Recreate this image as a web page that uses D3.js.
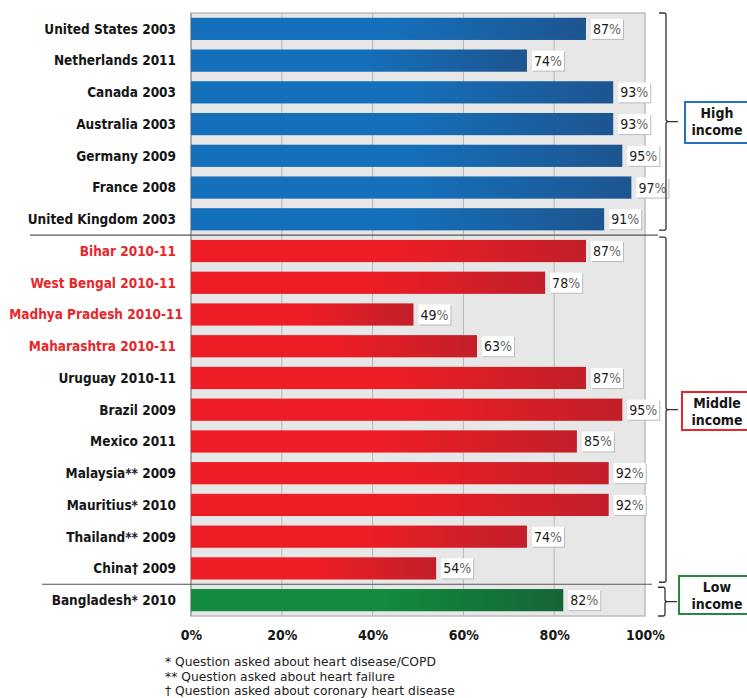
<!DOCTYPE html>
<html>
<head>
<meta charset="utf-8">
<script src="https://cdn.jsdelivr.net/npm/d3@7/dist/d3.min.js"></script>
<style>
  body { margin: 0; background: #fff; }
  svg { display: block; }
  text { font-family: "DejaVu Sans Condensed", "DejaVu Sans", sans-serif; }
</style>
</head>
<body>
<div id="chart"></div>
<script>

// share of people with the condition who knew about it, by survey
var countries = [
  "United States 2003", "Netherlands 2011", "Canada 2003", "Australia 2003",
  "Germany 2009", "France 2008", "United Kingdom 2003",
  "Bihar 2010-11", "West Bengal 2010-11", "Madhya Pradesh 2010-11", "Maharashtra 2010-11",
  "Uruguay 2010-11", "Brazil 2009", "Mexico 2011", "Malaysia** 2009",
  "Mauritius* 2010", "Thailand** 2009", "China\u2020 2009",
  "Bangladesh* 2010"
];
var values = [87, 74, 93, 93, 95, 97, 91,
              87, 78, 49, 63, 87, 95, 85, 92, 92, 74, 54,
              82];
var groups = ["high", "high", "high", "high", "high", "high", "high",
              "mid", "mid", "mid", "mid", "mid", "mid", "mid", "mid", "mid", "mid", "mid",
              "low"];
var redLabels = ["Bihar 2010-11", "West Bengal 2010-11", "Madhya Pradesh 2010-11", "Maharashtra 2010-11"];
var xTicks = [0, 20, 40, 60, 80, 100];
var incomeGroups = ["high", "mid", "low"];
var incomeNames = [["High", "income"], ["Middle", "income"], ["Low", "income"]];
var footnotes = [
  "* Question asked about heart disease/COPD",
  "** Question asked about heart failure",
  "\u2020 Question asked about coronary heart disease"
];

var W = 747, H = 698;
var plot = { left: 191, right: 645, top: 13, bottom: 616 };

var colors = {
  high: { light: "#1570bb", dark: "#1d5590", line: "#2a6fba" },
  mid:  { light: "#ee1d25", dark: "#c21f29", line: "#e8262b" },
  low:  { light: "#128b40", dark: "#156536", line: "#23893f" }
};

var svg = d3.select("#chart").append("svg")
  .attr("width", W)
  .attr("height", H);

var x = d3.scaleLinear().domain([0, 100]).range([plot.left, plot.right]);
var y = d3.scaleBand().domain(countries)
  .range([plot.top, plot.bottom])
  .paddingInner(0.3)
  .paddingOuter(0.15);

// gradients
var defs = svg.append("defs");
incomeGroups.forEach(function (g) {
  var grad = defs.append("linearGradient")
    .attr("id", "grad-" + g)
    .attr("x1", 0).attr("x2", 1).attr("y1", 0).attr("y2", 0);
  grad.append("stop").attr("offset", 0).attr("stop-color", colors[g].light);
  grad.append("stop").attr("offset", 0.5).attr("stop-color", colors[g].light);
  grad.append("stop").attr("offset", 1).attr("stop-color", colors[g].dark);
});

// panel
svg.append("rect")
  .attr("x", plot.left).attr("y", plot.top)
  .attr("width", plot.right - plot.left)
  .attr("height", plot.bottom - plot.top)
  .attr("fill", "#e7e7e7")
  .attr("stroke", "#bdbdbd")
  .attr("stroke-width", 1.5);

svg.append("g").selectAll("line")
  .data(xTicks.slice(1, -1)).enter()
  .append("line")
  .attr("x1", function (d) { return x(d); })
  .attr("x2", function (d) { return x(d); })
  .attr("y1", plot.top).attr("y2", plot.bottom)
  .attr("stroke", "#b8b8b8")
  .attr("stroke-width", 1);

svg.append("line")
  .attr("x1", plot.left).attr("x2", plot.left)
  .attr("y1", plot.top).attr("y2", plot.bottom)
  .attr("stroke", "#aaa").attr("stroke-width", 2);

// bars
var rows = countries.map(function (c, i) {
  return { name: c, value: values[i], group: groups[i] };
});

svg.append("g").selectAll("rect")
  .data(rows).enter()
  .append("rect")
  .attr("x", x(0))
  .attr("y", function (d) { return y(d.name); })
  .attr("width", function (d) { return x(d.value) - x(0); })
  .attr("height", y.bandwidth())
  .attr("fill", function (d) { return "url(#grad-" + d.group + ")"; });

// value labels
var vl = svg.append("g").selectAll("g")
  .data(rows).enter()
  .append("g")
  .attr("transform", function (d) {
    return "translate(" + (x(d.value) + 5) + "," + (y(d.name) + y.bandwidth() / 2) + ")";
  });

vl.append("rect").attr("class", "shadow");
vl.append("rect").attr("class", "box");
var vt = vl.append("text")
  .attr("x", 2)
  .attr("dy", "0.36em")
  .attr("font-size", 14)
  .attr("fill", "#1a1a1a");
vt.append("tspan").text(function (d) { return d.value; });
vt.append("tspan").attr("fill", "#666").attr("font-weight", 300).text("%");

vl.each(function () {
  var g = d3.select(this);
  var w = g.select("text").node().getComputedTextLength() + 4;
  g.select(".shadow")
    .attr("x", 1).attr("y", -9).attr("width", w).attr("height", 20)
    .attr("fill", "#bbb");
  g.select(".box")
    .attr("x", 0).attr("y", -10).attr("width", w).attr("height", 20)
    .attr("fill", "#fff");
});

// category labels (Madhya Pradesh sits a little further right in the original)
svg.append("g").selectAll("text")
  .data(countries).enter()
  .append("text")
  .attr("x", function (d) { return d === "Madhya Pradesh 2010-11" ? 183 : 176; })
  .attr("y", function (d) { return y(d) + y.bandwidth() / 2; })
  .attr("dy", "0.36em")
  .attr("text-anchor", "end")
  .attr("font-size", 13.5)
  .attr("font-weight", "bold")
  .attr("fill", function (d) { return redLabels.indexOf(d) >= 0 ? "#e8262b" : "#161616"; })
  .text(function (d) { return d; });

// separators between income groups
function rowEnd(name) { return y(name) + y.bandwidth(); }
var sep1 = (rowEnd("United Kingdom 2003") + y("Bihar 2010-11")) / 2;
var sep2 = (rowEnd("China\u2020 2009") + y("Bangladesh* 2010")) / 2;

svg.append("line")
  .attr("x1", 30).attr("x2", 658)
  .attr("y1", sep1).attr("y2", sep1)
  .attr("stroke", "#555").attr("stroke-width", 1.2);
svg.append("line")
  .attr("x1", 42).attr("x2", 652)
  .attr("y1", sep2).attr("y2", sep2)
  .attr("stroke", "#555").attr("stroke-width", 1.2);

// x axis
var xAxis = d3.axisBottom(x)
  .tickValues(xTicks)
  .tickSize(0)
  .tickPadding(0)
  .tickFormat(function (d) { return d + "%"; });

var ax = svg.append("g")
  .attr("transform", "translate(0," + (plot.bottom + 14) + ")")
  .call(xAxis);
ax.select(".domain").remove();
ax.selectAll("text")
  .attr("font-size", 14)
  .attr("font-weight", "bold")
  .attr("fill", "#161616")
  .style("font-family", "\"DejaVu Sans Condensed\", \"DejaVu Sans\", sans-serif");

// braces and group boxes
var braces = [
  { top: plot.top, bottom: sep1 - 5, x: 666, box: { x: 685, y: 102, h: 41 } },
  { top: sep1 + 2, bottom: sep2 - 2, x: 666, box: { x: 682, y: 392, h: 38 } },
  { top: sep2 + 3, bottom: plot.bottom, x: 665, box: { x: 679, y: 576, h: 38 } }
];

braces.forEach(function (b, i) {
  var mid = (b.top + b.bottom) / 2;
  var p = d3.path();
  p.moveTo(b.x - 7, b.top);
  p.lineTo(b.x - 2, b.top);
  p.quadraticCurveTo(b.x, b.top, b.x, b.top + 2);
  p.lineTo(b.x, mid - 2);
  p.quadraticCurveTo(b.x, mid, b.x + 3, mid);
  p.lineTo(b.x + 12, mid);
  p.moveTo(b.x + 3, mid);
  p.quadraticCurveTo(b.x, mid, b.x, mid + 2);
  p.lineTo(b.x, b.bottom - 2);
  p.quadraticCurveTo(b.x, b.bottom, b.x - 2, b.bottom);
  p.lineTo(b.x - 7, b.bottom);
  svg.append("path")
    .attr("d", p.toString())
    .attr("fill", "none")
    .attr("stroke", "#333")
    .attr("stroke-width", 1.3);

  var g = incomeGroups[i];
  svg.append("rect")
    .attr("x", b.box.x).attr("y", b.box.y)
    .attr("width", 80).attr("height", b.box.h)
    .attr("fill", "#fff")
    .attr("stroke", colors[g].line)
    .attr("stroke-width", 2);

  var t = svg.append("text")
    .attr("text-anchor", "middle")
    .attr("font-size", 14)
    .attr("font-weight", "bold")
    .attr("fill", "#161616");
  incomeNames[i].forEach(function (line, j) {
    t.append("tspan")
      .attr("x", 717)
      .attr("y", b.box.y + 16 + j * 17)
      .text(line);
  });
});

// footnotes
svg.append("g").selectAll("text")
  .data(footnotes).enter()
  .append("text")
  .attr("x", 165)
  .attr("y", function (d, i) { return 666 + i * 14.5; })
  .attr("font-size", 12.3)
  .attr("fill", "#222")
  .style("font-family", "\"DejaVu Sans\", sans-serif")
  .text(function (d) { return d; });

</script>
</body>
</html>
